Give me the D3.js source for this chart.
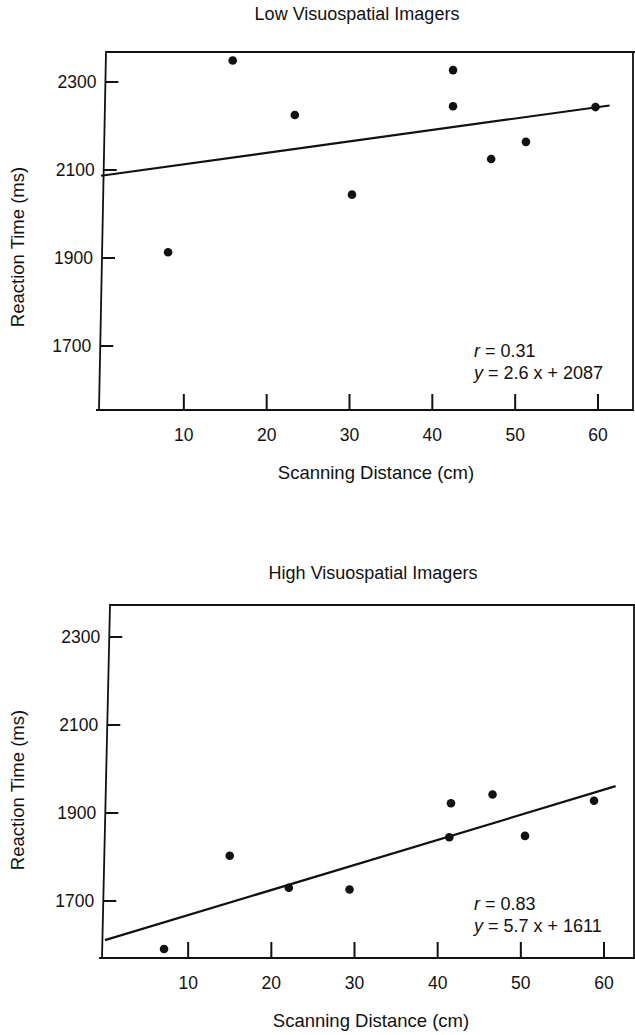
<!DOCTYPE html>
<html>
<head>
<meta charset="utf-8">
<script src="https://cdn.jsdelivr.net/npm/d3@7"></script>
<style>
  html, body { margin: 0; padding: 0; background: #fff; }
  svg { display: block; }
  text { font-family: "Liberation Sans", Arial, sans-serif; fill: #111; }
</style>
</head>
<body>
<svg id="chart" width="635" height="1035"></svg>
<script>
// ---- data ----
const panelTitles = ["Low Visuospatial Imagers", "High Visuospatial Imagers"];
const xTicks = [10, 20, 30, 40, 50, 60];
const yTicks = [1700, 1900, 2100, 2300];
const xLabel = "Scanning Distance (cm)";
const yLabel = "Reaction Time (ms)";

const lowX = [8.1, 15.9, 23.4, 30.3, 42.5, 42.5, 47.1, 51.3, 59.7];
const lowY = [1913, 2349, 2225, 2044, 2327, 2245, 2125, 2164, 2243];
const highX = [7.1, 15.0, 22.1, 29.4, 41.6, 41.4, 46.6, 50.5, 58.8];
const highY = [1591, 1803, 1730, 1726, 1922, 1845, 1942, 1848, 1928];

const fitSlopes = [2.6, 5.7];
const fitIntercepts = [2087, 1611];
const rValues = ["0.31", "0.83"];
const fitRange = [0, 61.4];

// ---- layout ----
const panels = [
  { xs: lowX, ys: lowY, leftTop: 106, leftBottom: 99, right: 633, top: 52, bottom: 410,
    x0: 101, x60: 598, y1700: 346, y2300: 82,
    titleX: 357, titleY: 20, xTitleX: 376, xTitleY: 479, yTitleY: 247,
    annX: 474, annY: 357 },
  { xs: highX, ys: highY, leftTop: 110, leftBottom: 102, right: 634, top: 605, bottom: 958,
    x0: 105, x60: 604, y1700: 901, y2300: 637,
    titleX: 373, titleY: 579, xTitleX: 371, xTitleY: 1027, yTitleY: 790,
    annX: 474, annY: 910 }
];

const svg = d3.select("#chart");

panels.forEach((p, i) => {
  const x = d3.scaleLinear().domain([0, 60]).range([p.x0, p.x60]);
  const y = d3.scaleLinear().domain([1700, 2300]).range([p.y1700, p.y2300]);
  const leftAt = d3.scaleLinear().domain([p.top, p.bottom]).range([p.leftTop, p.leftBottom]);
  const g = svg.append("g");

  // title
  g.append("text").attr("x", p.titleX).attr("y", p.titleY)
    .attr("text-anchor", "middle").attr("font-size", 18).text(panelTitles[i]);

  // frame (slightly skewed left edge as in the scan)
  const frame = d3.path();
  frame.moveTo(p.leftBottom - 3, p.bottom);
  frame.lineTo(p.right, p.bottom);
  frame.lineTo(p.right, p.top);
  frame.moveTo(635, p.top);
  frame.lineTo(p.leftTop, p.top);
  frame.lineTo(p.leftBottom, p.bottom);
  g.append("path").attr("d", frame.toString())
    .attr("fill", "none").attr("stroke", "#111").attr("stroke-width", 1.8);

  // x ticks (upward from the bottom axis)
  g.selectAll(".xt").data(xTicks).enter().append("line")
    .attr("x1", d => x(d)).attr("x2", d => x(d))
    .attr("y1", p.bottom).attr("y2", p.bottom - 16)
    .attr("stroke", "#111").attr("stroke-width", 2);
  g.selectAll(".xl").data(xTicks).enter().append("text")
    .attr("x", d => x(d)).attr("y", p.bottom + 31)
    .attr("text-anchor", "middle").attr("font-size", 17.5).text(d => d);

  // y ticks (rightward from the left edge)
  g.selectAll(".yt").data(yTicks).enter().append("line")
    .attr("x1", d => leftAt(y(d))).attr("x2", d => leftAt(y(d)) + 13)
    .attr("y1", d => y(d)).attr("y2", d => y(d))
    .attr("stroke", "#111").attr("stroke-width", 2);
  g.selectAll(".yl").data(yTicks).enter().append("text")
    .attr("x", d => leftAt(y(d)) - 9).attr("y", d => y(d))
    .attr("dy", "0.36em")
    .attr("text-anchor", "end").attr("font-size", 17.5).text(d => d);

  // axis titles
  g.append("text").attr("x", p.xTitleX).attr("y", p.xTitleY)
    .attr("text-anchor", "middle").attr("font-size", 18.5).text(xLabel);
  g.append("text")
    .attr("transform", `translate(24,${p.yTitleY}) rotate(-90)`)
    .attr("text-anchor", "middle").attr("font-size", 18.5).text(yLabel);

  // regression line
  const fit = fitRange.map(v => [v, fitSlopes[i] * v + fitIntercepts[i]]);
  g.append("path").datum(fit)
    .attr("d", d3.line().x(d => x(d[0])).y(d => y(d[1])))
    .attr("fill", "none").attr("stroke", "#111").attr("stroke-width", 2.2);

  // points
  g.selectAll(".pt").data(p.xs.map((v, k) => [v, p.ys[k]])).enter()
    .append("circle").attr("cx", d => x(d[0])).attr("cy", d => y(d[1]))
    .attr("r", 4.3).attr("fill", "#111");

  // annotation
  const a1 = g.append("text").attr("x", p.annX).attr("y", p.annY).attr("font-size", 18);
  a1.append("tspan").attr("font-style", "italic").text("r");
  a1.append("tspan").text(" = " + rValues[i]);
  const a2 = g.append("text").attr("x", p.annX).attr("y", p.annY + 22).attr("font-size", 18);
  a2.append("tspan").attr("font-style", "italic").text("y");
  a2.append("tspan").text(` = ${fitSlopes[i]} x + ${fitIntercepts[i]}`);
});
</script>
</body>
</html>
